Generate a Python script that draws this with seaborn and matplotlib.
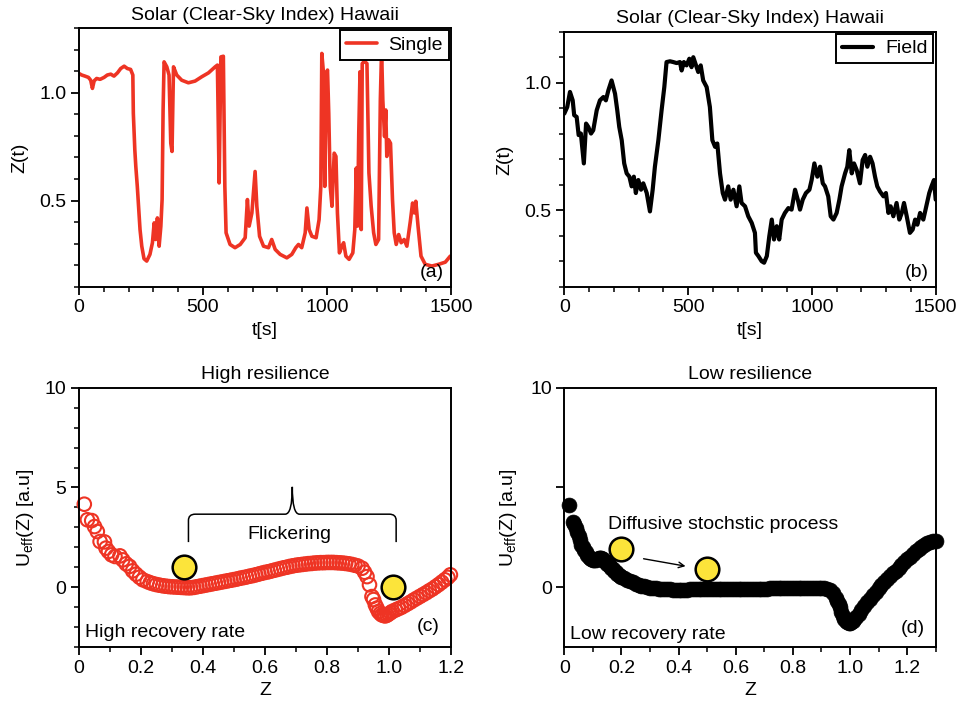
import numpy as np
import pandas as pd
import matplotlib
matplotlib.use("Agg")
import matplotlib.pyplot as plt
from matplotlib.path import Path
from matplotlib.patches import PathPatch
from matplotlib.ticker import MultipleLocator, FixedLocator, FormatStrFormatter
import seaborn as sns

# ---------------- data ----------------
t_single = [0, 11, 24, 38, 47, 54, 61, 71, 85, 101, 114, 128, 141, 155, 168, 182, 195, 208, 217, 219,
            225, 229, 235, 241, 246, 253, 262, 273, 286, 296, 303, 309, 316, 323, 330, 335, 339, 343, 354, 363,
            370, 375, 381, 394, 414, 441, 468, 495, 522, 549, 558, 565, 572, 582, 588, 593, 609, 629, 650, 670,
            679, 686, 697, 710, 717, 728, 744, 764, 777, 791, 811, 838, 858, 874, 885, 898, 912, 919, 928, 939,
            956, 968, 975, 979, 986, 991, 997, 1002, 1007, 1013, 1020, 1029, 1036, 1042, 1050, 1060, 1067, 1076, 1089, 1104,
            1112, 1118, 1123, 1128, 1133, 1138, 1142, 1151, 1161, 1169, 1178, 1188, 1197, 1208, 1215, 1220, 1225, 1232, 1237, 1241,
            1248, 1256, 1264, 1271, 1279, 1289, 1299, 1311, 1322, 1336, 1345, 1352, 1358, 1367, 1379, 1396, 1423, 1450, 1477, 1497]
z_single = [1.089, 1.082, 1.077, 1.071, 1.058, 1.020, 1.055, 1.066, 1.062, 1.071, 1.082, 1.086, 1.077, 1.092, 1.112, 1.123, 1.112, 1.108, 1.082, 0.905,
            0.735, 0.658, 0.566, 0.458, 0.366, 0.289, 0.231, 0.220, 0.251, 0.305, 0.397, 0.320, 0.420, 0.289, 0.382, 0.505, 0.920, 1.143, 1.120, 1.082,
            0.766, 0.728, 1.120, 1.082, 1.058, 1.046, 1.054, 1.074, 1.092, 1.120, 1.128, 0.582, 1.166, 1.169, 0.566, 0.351, 0.297, 0.282, 0.297, 0.328,
            0.505, 0.382, 0.443, 0.635, 0.474, 0.335, 0.289, 0.282, 0.320, 0.274, 0.251, 0.235, 0.251, 0.282, 0.297, 0.282, 0.351, 0.466, 0.366, 0.335,
            0.328, 0.412, 0.566, 1.182, 1.089, 0.566, 1.089, 1.105, 0.905, 0.566, 0.474, 0.720, 0.705, 0.443, 0.258, 0.289, 0.305, 0.243, 0.228, 0.258,
            0.366, 0.651, 0.382, 0.812, 1.097, 0.366, 1.135, 1.146, 1.135, 0.628, 0.474, 0.351, 0.297, 0.320, 0.966, 1.197, 0.966, 0.797, 0.920, 0.705,
            0.782, 0.766, 0.505, 0.351, 0.297, 0.343, 0.305, 0.320, 0.289, 0.405, 0.489, 0.443, 0.497, 0.382, 0.243, 0.205, 0.197, 0.205, 0.215, 0.243]

t_field = [0, 12, 23, 34, 40, 50, 58, 67, 79, 88, 97, 108, 117, 131, 144, 158, 168, 178, 191, 205,
           214, 222, 232, 242, 252, 263, 272, 281, 289, 299, 310, 319, 333, 346, 357, 366, 380, 393, 404, 413,
           427, 440, 454, 467, 474, 483, 494, 505, 514, 521, 532, 541, 551, 561, 575, 588, 598, 609, 618, 629,
           640, 649, 662, 672, 683, 696, 707, 716, 730, 743, 757, 770, 774, 784, 797, 807, 818, 828, 838, 847,
           858, 868, 878, 891, 905, 918, 932, 943, 952, 963, 976, 990, 999, 1010, 1022, 1033, 1044, 1053, 1066, 1076,
           1087, 1100, 1111, 1120, 1134, 1143, 1151, 1161, 1170, 1181, 1194, 1205, 1215, 1224, 1235, 1245, 1255, 1264, 1275, 1289,
           1299, 1309, 1318, 1329, 1342, 1353, 1363, 1372, 1383, 1396, 1407, 1417, 1426, 1437, 1450, 1462, 1474, 1483, 1493, 1500]
z_field = [0.879, 0.905, 0.964, 0.931, 0.873, 0.866, 0.795, 0.801, 0.684, 0.840, 0.827, 0.801, 0.814, 0.892, 0.931, 0.944, 0.931, 0.970, 1.009, 0.957,
           0.892, 0.827, 0.775, 0.684, 0.645, 0.632, 0.594, 0.632, 0.568, 0.619, 0.581, 0.606, 0.568, 0.496, 0.581, 0.671, 0.775, 0.892, 0.983, 1.081,
           1.084, 1.081, 1.077, 1.081, 1.048, 1.081, 1.068, 1.094, 1.061, 1.100, 1.068, 1.042, 1.068, 1.009, 0.983, 0.905, 0.775, 0.749, 0.762, 0.645,
           0.568, 0.542, 0.594, 0.542, 0.581, 0.516, 0.594, 0.529, 0.516, 0.477, 0.451, 0.412, 0.334, 0.321, 0.301, 0.295, 0.321, 0.399, 0.464, 0.386,
           0.438, 0.386, 0.464, 0.490, 0.509, 0.503, 0.581, 0.542, 0.503, 0.542, 0.568, 0.581, 0.619, 0.684, 0.632, 0.671, 0.606, 0.594, 0.555, 0.477,
           0.464, 0.490, 0.542, 0.594, 0.645, 0.671, 0.736, 0.645, 0.684, 0.658, 0.606, 0.697, 0.717, 0.671, 0.710, 0.684, 0.632, 0.594, 0.574, 0.555,
           0.568, 0.490, 0.516, 0.477, 0.529, 0.464, 0.490, 0.529, 0.477, 0.412, 0.425, 0.464, 0.444, 0.490, 0.464, 0.516, 0.568, 0.594, 0.619, 0.542]

z_high = [0.017, 0.027, 0.041, 0.050, 0.059, 0.068, 0.082, 0.087, 0.095, 0.105, 0.116, 0.132, 0.141, 0.152, 0.163, 0.173, 0.184, 0.195, 0.206,
          0.22, 0.23, 0.24, 0.25, 0.26, 0.27, 0.28, 0.29, 0.30, 0.31, 0.32, 0.33, 0.34, 0.35, 0.36, 0.37, 0.38, 0.39, 0.40, 0.41,
          0.42, 0.43, 0.44, 0.45, 0.46, 0.47, 0.48, 0.49, 0.50, 0.51, 0.52, 0.53, 0.54, 0.55, 0.56, 0.57, 0.58, 0.59, 0.60, 0.61,
          0.62, 0.63, 0.64, 0.65, 0.66, 0.67, 0.68, 0.69, 0.70, 0.71, 0.72, 0.73, 0.74, 0.75, 0.76, 0.77, 0.78, 0.79, 0.80, 0.81,
          0.82, 0.83, 0.84, 0.85, 0.86, 0.87, 0.88, 0.89, 0.90,
          0.913, 0.921, 0.929, 0.937, 0.945, 0.950, 0.956, 0.961, 0.966, 0.972, 0.977, 0.983, 0.988, 0.994, 0.999, 1.005, 1.010,
          1.02, 1.03, 1.04, 1.05, 1.06, 1.07, 1.08, 1.09, 1.10, 1.11, 1.12, 1.13, 1.14, 1.15, 1.16, 1.17, 1.18, 1.19, 1.198]
u_high = [4.16, 3.38, 3.34, 3.04, 2.79, 2.29, 2.27, 1.96, 1.79, 1.62, 1.54, 1.57, 1.37, 1.17, 1.04, 0.82, 0.65, 0.50, 0.37,
          0.28, 0.22, 0.17, 0.13, 0.10, 0.07, 0.05, 0.03, 0.02, 0.01, 0.00, -0.01, -0.02, -0.03, -0.03, -0.01, 0.02, 0.05, 0.08, 0.11,
          0.14, 0.17, 0.20, 0.23, 0.26, 0.29, 0.32, 0.35, 0.38, 0.41, 0.45, 0.48, 0.51, 0.55, 0.58, 0.62, 0.66, 0.70, 0.74, 0.77,
          0.81, 0.85, 0.89, 0.93, 0.97, 1.00, 1.04, 1.07, 1.10, 1.12, 1.14, 1.16, 1.18, 1.19, 1.21, 1.22, 1.23, 1.23, 1.24, 1.24,
          1.24, 1.23, 1.22, 1.21, 1.19, 1.17, 1.14, 1.10, 1.06,
          0.95, 0.75, 0.53, 0.12, -0.47, -0.62, -0.89, -1.05, -1.22, -1.32, -1.39, -1.42, -1.44, -1.40, -1.34, -1.28, -1.22,
          -1.15, -1.08, -1.01, -0.92, -0.83, -0.74, -0.64, -0.55, -0.46, -0.37, -0.28, -0.18, -0.09, 0.02, 0.13, 0.25, 0.37, 0.49, 0.62]

z_low = [0.017, 0.030, 0.035, 0.040, 0.045, 0.050, 0.055, 0.060, 0.065, 0.070, 0.075, 0.080, 0.085, 0.090, 0.095, 0.100, 0.105, 0.110,
         0.115, 0.120, 0.125, 0.130, 0.135, 0.140, 0.145, 0.150, 0.155, 0.160, 0.165, 0.170, 0.175, 0.180, 0.185, 0.190, 0.195, 0.200,
         0.21, 0.22, 0.23, 0.24, 0.25, 0.26, 0.27, 0.28, 0.29, 0.30, 0.31, 0.32, 0.33, 0.34, 0.35, 0.36, 0.37, 0.38, 0.39, 0.40,
         0.41, 0.42, 0.43, 0.44, 0.45, 0.46, 0.47, 0.48, 0.49, 0.50, 0.51, 0.52, 0.53, 0.54, 0.55, 0.56, 0.57, 0.58, 0.59, 0.60,
         0.61, 0.62, 0.63, 0.64, 0.65, 0.66, 0.67, 0.68, 0.69, 0.70, 0.71, 0.72, 0.73, 0.74, 0.75, 0.76, 0.77, 0.78, 0.79, 0.80,
         0.81, 0.82, 0.83, 0.84, 0.85, 0.86, 0.87, 0.88, 0.89, 0.90, 0.91, 0.92,
         0.93, 0.94, 0.95, 0.955, 0.96, 0.965, 0.97, 0.975, 0.98, 0.985, 0.99, 0.995, 1.00, 1.005, 1.01, 1.015,
         1.02, 1.03, 1.04, 1.05, 1.06, 1.07, 1.08, 1.09, 1.10, 1.11, 1.12, 1.13, 1.14, 1.15, 1.16, 1.17, 1.18, 1.19, 1.20,
         1.21, 1.22, 1.23, 1.24, 1.25, 1.26, 1.27, 1.28, 1.29, 1.30]
u_low = [4.12, 3.25, 3.15, 2.95, 2.75, 2.55, 2.37, 2.12, 2.00, 1.88, 1.75, 1.62, 1.52, 1.45, 1.40, 1.37, 1.37, 1.38,
         1.40, 1.44, 1.46, 1.45, 1.40, 1.32, 1.24, 1.18, 1.12, 1.05, 0.97, 0.89, 0.82, 0.75, 0.68, 0.62, 0.56, 0.52,
         0.44, 0.37, 0.30, 0.24, 0.18, 0.13, 0.08, 0.04, 0.01, -0.02, -0.04, -0.06, -0.08, -0.09, -0.10, -0.11, -0.11, -0.12, -0.12, -0.12,
         -0.12, -0.12, -0.12, -0.11, -0.11, -0.11, -0.11, -0.10, -0.10, -0.10, -0.10, -0.10, -0.09, -0.09, -0.09, -0.09, -0.09, -0.09, -0.08, -0.08,
         -0.08, -0.08, -0.08, -0.08, -0.07, -0.07, -0.07, -0.07, -0.07, -0.07, -0.07, -0.06, -0.06, -0.06, -0.06, -0.06, -0.06, -0.06, -0.06, -0.06,
         -0.06, -0.06, -0.06, -0.06, -0.06, -0.06, -0.05, -0.05, -0.05, -0.05, -0.06, -0.08,
         -0.15, -0.30, -0.52, -0.68, -0.82, -1.00, -1.25, -1.45, -1.58, -1.68, -1.75, -1.79, -1.80, -1.76, -1.68, -1.60,
         -1.50, -1.32, -1.12, -0.93, -0.76, -0.58, -0.41, -0.23, -0.05, 0.11, 0.26, 0.40, 0.55, 0.69, 0.83, 0.97, 1.11, 1.25, 1.39,
         1.53, 1.67, 1.80, 1.92, 2.03, 2.13, 2.21, 2.27, 2.31, 2.34]

ball_high_z = [0.34, 1.012]
ball_high_u = [0.99, 0.0]
ball_low_z = [0.20, 0.50]
ball_low_u = [1.90, 0.90]

xticks_time = [0, 500, 1000, 1500]
yticks_time = [0.5, 1.0]
xticks_z = [0, 0.2, 0.4, 0.6, 0.8, 1.0, 1.2]
xticklabels_z = ["0", "0.2", "0.4", "0.6", "0.8", "1.0", "1.2"]
yticks_u = [0, 5, 10]

RED = "#EE3424"
YELLOW = "#FCE43A"

# ---------------- style ----------------
sns.set_theme(style="ticks")
plt.rcParams["font.family"] = ["Liberation Sans", "DejaVu Sans"]
plt.rcParams["mathtext.fontset"] = "custom"
plt.rcParams["mathtext.rm"] = "Liberation Sans"
plt.rcParams["mathtext.it"] = "Liberation Sans:italic"
plt.rcParams["axes.linewidth"] = 1.4
plt.rcParams["axes.edgecolor"] = "black"
plt.rcParams["text.color"] = "black"
plt.rcParams["axes.labelcolor"] = "black"
plt.rcParams["axes.titlecolor"] = "black"
plt.rcParams["xtick.color"] = "black"
plt.rcParams["ytick.color"] = "black"
FS = 14

fig = plt.figure(figsize=(9.59, 7.10), dpi=100)
axA = fig.add_axes([0.0824, 0.5958, 0.3879, 0.3648])
axB = fig.add_axes([0.5884, 0.5958, 0.3873, 0.3596])
axC = fig.add_axes([0.0824, 0.0887, 0.3879, 0.3652])
axD = fig.add_axes([0.5884, 0.0887, 0.3873, 0.3652])


def style_axis(ax):
    ax.tick_params(axis="both", which="major", direction="out", length=6, width=1.3,
                   labelsize=FS, colors="black", pad=3, top=False, right=False)
    ax.tick_params(axis="both", which="minor", direction="out", length=3.5, width=1.1,
                   colors="black", top=False, right=False)
    for s in ax.spines.values():
        s.set_visible(True)
        s.set_linewidth(1.4)
        s.set_color("black")


# ---- (a) ----
sns.lineplot(x=t_single, y=z_single, ax=axA, color=RED, linewidth=2.6, label="Single",
             sort=False, estimator=None)
axA.set_xlim(0, 1500)
axA.set_ylim(0.1, 1.3)
axA.set_xticks(xticks_time)
axA.set_yticks(yticks_time)
axA.yaxis.set_major_formatter(FormatStrFormatter("%.1f"))
axA.xaxis.set_minor_locator(MultipleLocator(100))
axA.yaxis.set_minor_locator(MultipleLocator(0.1))
axA.set_title("Solar (Clear-Sky Index) Hawaii", fontsize=FS)
axA.set_xlabel("t[s]", fontsize=FS)
axA.set_ylabel("Z(t)", fontsize=FS, labelpad=8)
style_axis(axA)
leg = axA.legend(loc="upper right", frameon=True, fancybox=False, edgecolor="black",
                 borderaxespad=0.12, handlelength=1.6, fontsize=FS, borderpad=0.3,
                 handletextpad=0.6)
leg.get_frame().set_linewidth(1.4)
leg.get_frame().set_alpha(1)
axA.text(0.98, 0.055, "(a)", transform=axA.transAxes, ha="right", va="center", fontsize=FS)

# ---- (b) ----
sns.lineplot(x=t_field, y=z_field, ax=axB, color="black", linewidth=3.0, label="Field",
             sort=False, estimator=None)
axB.set_xlim(0, 1500)
axB.set_ylim(0.2, 1.2)
axB.set_xticks(xticks_time)
axB.set_yticks(yticks_time)
axB.yaxis.set_major_formatter(FormatStrFormatter("%.1f"))
axB.xaxis.set_minor_locator(MultipleLocator(100))
axB.yaxis.set_minor_locator(MultipleLocator(0.1))
axB.set_title("Solar (Clear-Sky Index) Hawaii", fontsize=FS)
axB.set_xlabel("t[s]", fontsize=FS)
axB.set_ylabel("Z(t)", fontsize=FS, labelpad=8)
style_axis(axB)
leg = axB.legend(loc="upper right", frameon=True, fancybox=False, edgecolor="black",
                 borderaxespad=0.12, handlelength=1.6, fontsize=FS, borderpad=0.3,
                 handletextpad=0.6)
leg.get_frame().set_linewidth(1.4)
leg.get_frame().set_alpha(1)
axB.text(0.98, 0.055, "(b)", transform=axB.transAxes, ha="right", va="center", fontsize=FS)

# ---- (c) ----
sns.scatterplot(x=z_high, y=u_high, ax=axC, marker="o", s=95, legend=False)
coll = axC.collections[-1]
coll.set_facecolor("none")
coll.set_edgecolor(RED)
coll.set_linewidth(1.5)
coll.set_clip_on(False)
sns.scatterplot(x=ball_high_z, y=ball_high_u, ax=axC, marker="o", s=290, color=YELLOW,
                edgecolor="black", linewidth=1.8, legend=False, zorder=5)
axC.set_xlim(0, 1.2)
axC.set_ylim(-3, 10)
axC.set_xticks(xticks_z)
axC.set_xticklabels(xticklabels_z)
axC.set_yticks(yticks_u)
axC.xaxis.set_minor_locator(MultipleLocator(0.1))
axC.yaxis.set_minor_locator(MultipleLocator(1))
axC.set_title("High resilience", fontsize=FS)
axC.set_xlabel("Z", fontsize=FS)
axC.set_ylabel(r"U$_{\mathrm{eff}}$(Z) [a.u]", fontsize=FS, labelpad=6)
style_axis(axC)
# brace
verts = [(0.353, 2.26), (0.353, 3.35), (0.353, 3.66), (0.375, 3.66),
         (0.665, 3.66), (0.688, 3.66), (0.688, 5.03),
         (0.688, 3.66), (0.711, 3.66),
         (1.001, 3.66), (1.023, 3.66), (1.023, 3.35), (1.023, 2.26)]
codes = [Path.MOVETO, Path.LINETO, Path.CURVE3, Path.CURVE3,
         Path.LINETO, Path.CURVE3, Path.CURVE3,
         Path.CURVE3, Path.CURVE3,
         Path.LINETO, Path.CURVE3, Path.CURVE3, Path.LINETO]
axC.add_patch(PathPatch(Path(verts, codes), facecolor="none", edgecolor="black", lw=1.1))
axC.text(0.68, 2.63, "Flickering", ha="center", va="center", fontsize=FS)
axC.text(0.015, 0.055, "High recovery rate", transform=axC.transAxes, ha="left", va="center", fontsize=FS)
axC.text(0.97, 0.08, "(c)", transform=axC.transAxes, ha="right", va="center", fontsize=FS)

# ---- (d) ----
sns.scatterplot(x=z_low, y=u_low, ax=axD, marker="o", s=115, color="black",
                edgecolor="black", linewidth=0.5, legend=False)
axD.collections[-1].set_clip_on(False)
sns.scatterplot(x=ball_low_z, y=ball_low_u, ax=axD, marker="o", s=290, color=YELLOW,
                edgecolor="black", linewidth=1.8, legend=False, zorder=5)
axD.set_xlim(0, 1.3)
axD.set_ylim(-3, 10)
axD.set_xticks(xticks_z)
axD.set_xticklabels(xticklabels_z)
axD.yaxis.set_major_locator(FixedLocator(yticks_u))
axD.set_yticklabels(["0", "", "10"])
axD.xaxis.set_minor_locator(MultipleLocator(0.1))
axD.set_title("Low resilience", fontsize=FS)
axD.set_xlabel("Z", fontsize=FS)
axD.set_ylabel(r"U$_{\mathrm{eff}}$(Z) [a.u]", fontsize=FS, labelpad=8)
style_axis(axD)
axD.annotate("", xy=(0.434, 1.03), xytext=(0.268, 1.45),
             arrowprops=dict(arrowstyle="->", lw=1.0, color="black", mutation_scale=10))
axD.text(0.154, 3.12, "Diffusive stochstic process", ha="left", va="center", fontsize=FS)
axD.text(0.016, 0.047, "Low recovery rate", transform=axD.transAxes, ha="left", va="center", fontsize=FS)
axD.text(0.97, 0.07, "(d)", transform=axD.transAxes, ha="right", va="center", fontsize=FS)

fig.savefig("out.png", dpi=100)
